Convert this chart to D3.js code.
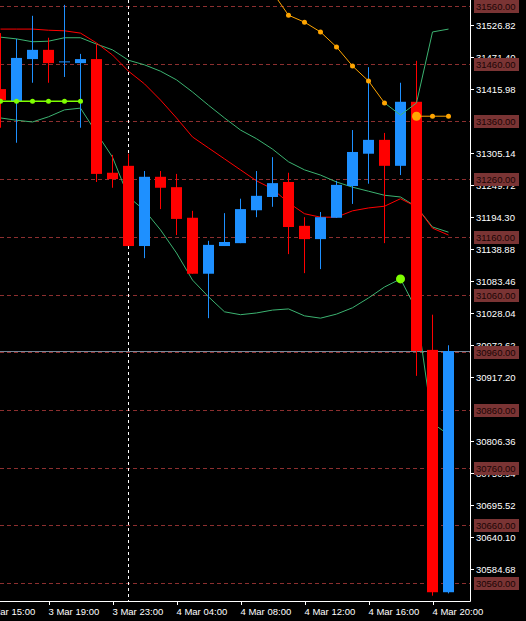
<!DOCTYPE html>
<html>
<head>
<meta charset="utf-8">
<script src="https://cdn.jsdelivr.net/npm/d3@7"></script>
<style>
  body { margin: 0; background: #000; }
  svg { display: block; }
  text { font-family: "Liberation Sans", Arial, sans-serif; font-size: 9.5px; }
</style>
</head>
<body>
<svg id="chart" width="526" height="621"></svg>
<script>
// hourly bars, index 0 = first (partial) candle on the left
var opens  = [31416,31395,31468,31484,31463,31461,31468,31271,31283,31144,31264,31246,31193,31096,31144,31149,31206,31229,31255,31179,31156,31193,31248,31304,31328,31283,31394,30964,30544];
var highs  = [31513,31503,31543,31505,31562,31477,31494,31302,31304,31274,31274,31269,31205,31153,31201,31226,31274,31298,31271,31194,31203,31257,31345,31454,31340,31427,31465,31025,30972];
var lows   = [31349,31323,31427,31427,31437,31349,31255,31245,31144,31123,31208,31163,31096,31019,31144,31149,31194,31212,31130,31097,31104,31193,31217,31252,31149,31267,30919,30538,30542];
var closes = [31397,31470,31484,31461,31464,31468,31269,31260,31144,31264,31245,31191,31096,31146,31151,31208,31231,31253,31177,31156,31194,31250,31307,31328,31283,31394,30962,30544,30962];

var maRed   = [31520,31520,31520,31518,31517,31513,31496,31475,31447,31425,31397,31366,31333,31314,31295,31276,31257,31243,31219,31200,31194,31194,31205,31210,31213,31226,31212,31175,31163];
var bandUp  = [31506,31503,31498,31499,31505,31505,31494,31484,31466,31458,31447,31432,31411,31388,31366,31345,31330,31312,31290,31276,31267,31255,31246,31239,31232,31229,31212,31177,31168];
var bandLow = [31366,31362,31359,31368,31380,31383,31340,31298,31229,31206,31172,31132,31085,31056,31030,31025,31028,31033,31035,31023,31019,31026,31037,31054,31073,31087,31033,30837,30817];

// orange dotted trail (index, price)
var orangeIdx = [17,18,19,20,21,22,23,24];
var orangeVal = [31584,31544,31532,31515,31489,31456,31430,31392];
var orangeFlatIdx = [26,27,28];
var orangeFlatVal = [31369,31369,31369];
// green trail continuing to the right
var greenIdx = [24,25,26,27,28];
var greenVal = [31392,31371,31392,31515,31520];
// lime dotted level on the left
var limeIdx = [0,1,2,3,4,5];
var limeVal = [31395,31395,31395,31395,31395,31395];

var roundLevels = [31560,31460,31360,31260,31160,31060,30960,30860,30760,30660,30560];
var axisLevels = [31526.82,31471.40,31415.98,31305.14,31249.72,31194.30,31138.88,31083.46,31028.04,30972.62,30917.20,30806.36,30750.94,30695.52,30640.10,30584.68];
var timeIdx = [-1,3,7,11,15,19,23,27];
var timeLabels = ["3 Mar 15:00","3 Mar 19:00","3 Mar 23:00","4 Mar 04:00","4 Mar 08:00","4 Mar 12:00","4 Mar 16:00","4 Mar 20:00"];
var lastPrice = 30960;

var svg = d3.select("#chart");
var plotR = 470, plotB = 601;

var x = d3.scaleLinear().domain([0, 1]).range([0.5, 16.5]);
var y = d3.scaleLinear().domain([31560, 30560]).range([6, 583]);

var plot = svg.append("g");
plot.append("clipPath").attr("id", "clip").append("rect")
  .attr("x", 0).attr("y", 0).attr("width", plotR).attr("height", plotB);
var g = plot.append("g").attr("clip-path", "url(#clip)");

// round-level dashed lines
g.selectAll(".lvl").data(roundLevels).join("line")
  .attr("x1", 0).attr("x2", plotR)
  .attr("y1", d => Math.round(y(d)) + 0.5).attr("y2", d => Math.round(y(d)) + 0.5)
  .attr("stroke", "#8c2f2f").attr("stroke-dasharray", "4,3");

// current price line
g.append("line").attr("x1", 0).attr("x2", plotR)
  .attr("y1", Math.round(y(lastPrice)) - 0.5).attr("y2", Math.round(y(lastPrice)) - 0.5)
  .attr("stroke", "#778899");

// period separator
g.append("line").attr("x1", x(8)).attr("x2", x(8)).attr("y1", 0).attr("y2", plotB)
  .attr("stroke", "#fff").attr("stroke-dasharray", "3,3");

var idx = d3.range(opens.length);
var line = d3.line().x((d, i) => x(i)).y(d => y(d));

g.append("path").attr("d", line(bandUp)).attr("fill", "none").attr("stroke", "#3cb371");
g.append("path").attr("d", line(bandLow)).attr("fill", "none").attr("stroke", "#3cb371");
g.append("path").attr("d", line(maRed)).attr("fill", "none").attr("stroke", "#ff0000");

// candles
var cand = g.selectAll(".c").data(idx).join("g");
cand.append("line")
  .attr("x1", i => x(i)).attr("x2", i => x(i))
  .attr("y1", i => y(highs[i])).attr("y2", i => y(lows[i]))
  .attr("stroke", i => closes[i] >= opens[i] ? "#1e90ff" : "#ff0000");
cand.append("rect")
  .attr("x", i => x(i) - 5.5).attr("width", 11)
  .attr("y", i => y(Math.max(opens[i], closes[i])))
  .attr("height", i => Math.max(1, Math.abs(y(opens[i]) - y(closes[i]))))
  .attr("fill", i => closes[i] >= opens[i] ? "#1e90ff" : "#ff0000");

// trails
var pts = (ix, v) => ix.map((d, i) => [x(d), y(v[i])]);
g.append("path").attr("d", d3.line()(pts(greenIdx, greenVal))).attr("fill", "none").attr("stroke", "#3cb371");
g.append("path").attr("d", d3.line()(pts(orangeIdx, orangeVal))).attr("fill", "none").attr("stroke", "#ffa500");
g.append("path").attr("d", d3.line()(pts(orangeFlatIdx, orangeFlatVal))).attr("fill", "none").attr("stroke", "#ffa500");
g.selectAll(".od").data(pts(orangeIdx, orangeVal).concat(pts(orangeFlatIdx.slice(1), orangeFlatVal.slice(1)))).join("circle")
  .attr("cx", d => d[0]).attr("cy", d => d[1]).attr("r", 2.5).attr("fill", "#ffa500");
g.append("circle").attr("cx", x(orangeFlatIdx[0])).attr("cy", y(orangeFlatVal[0])).attr("r", 4.5).attr("fill", "#ffa500");
g.append("path").attr("d", d3.line()(pts(limeIdx, limeVal))).attr("fill", "none").attr("stroke", "#7fff00").attr("stroke-width", 1.5);
g.selectAll(".ld").data(pts(limeIdx, limeVal)).join("circle")
  .attr("cx", d => d[0]).attr("cy", d => d[1]).attr("r", 2.5).attr("fill", "#7fff00");
g.append("circle").attr("cx", x(25)).attr("cy", y(bandLow[25])).attr("r", 4.5).attr("fill", "#7fff00");

// frame
svg.append("line").attr("x1", plotR + 0.5).attr("x2", plotR + 0.5).attr("y1", 0).attr("y2", plotB + 0.5).attr("stroke", "#fff");
svg.append("line").attr("x1", 0).attr("x2", plotR + 0.5).attr("y1", plotB + 0.5).attr("y2", plotB + 0.5).attr("stroke", "#fff");

// price axis
var ax = svg.append("g");
ax.selectAll(".t").data(axisLevels).join("g").each(function(d) {
  var gy = Math.round(y(d)) + 0.5;
  d3.select(this).append("line").attr("x1", plotR).attr("x2", plotR + 4).attr("y1", gy).attr("y2", gy).attr("stroke", "#fff");
  d3.select(this).append("text").attr("x", plotR + 6).attr("y", gy + 3.5).attr("fill", "#fff").text(d.toFixed(2));
});
ax.selectAll(".r").data(roundLevels).join("g").each(function(d) {
  var gy = Math.round(y(d));
  d3.select(this).append("rect").attr("x", plotR + 4).attr("y", gy - 6).attr("width", 45).attr("height", 13).attr("fill", "#7a3434");
  d3.select(this).append("text").attr("x", plotR + 6).attr("y", gy + 4).attr("fill", "#1a0505").text(d.toFixed(2));
});

// time axis
var tx = svg.append("g");
timeIdx.forEach(function(d, i) {
  var px = Math.round(x(d)) + 0.5;
  tx.append("line").attr("x1", px).attr("x2", px).attr("y1", plotB).attr("y2", plotB + 4).attr("stroke", "#fff");
  tx.append("text").attr("x", px - 1).attr("y", plotB + 14).attr("fill", "#fff").text(timeLabels[i]);
});
</script>
</body>
</html>
